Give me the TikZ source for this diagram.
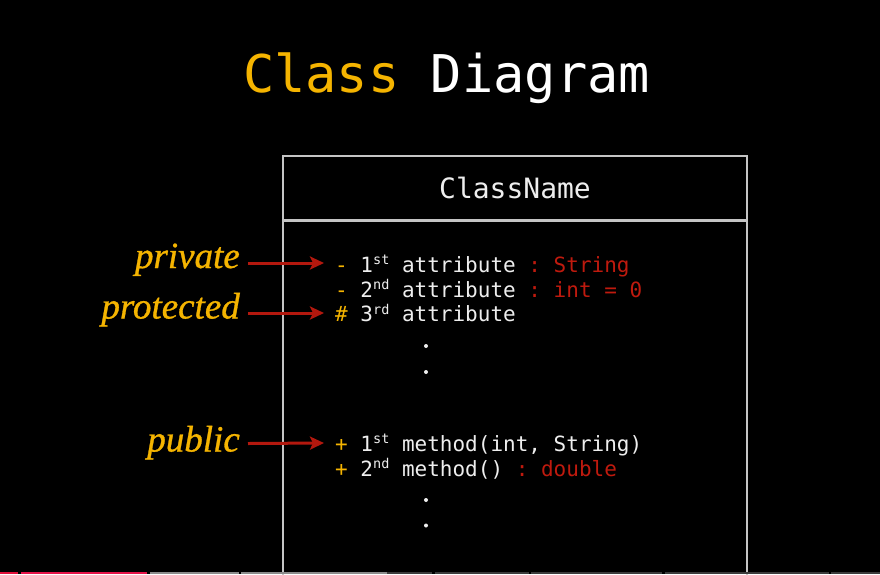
\documentclass[tikz,border=0pt]{standalone}
\usepackage{fontspec}
\setmonofont{DejaVu Sans Mono}
\newfontfamily\labfont[FakeBold=0.8]{Liberation Serif}
\usetikzlibrary{arrows.meta}
\definecolor{umlyellow}{HTML}{F5B400}
\definecolor{umlred}{HTML}{BF1A0E}
\definecolor{arrred}{HTML}{B3180E}
\definecolor{codewhite}{HTML}{EEEEEE}
\definecolor{boxgray}{HTML}{C4C4C4}
\definecolor{barred}{HTML}{E0103A}
\definecolor{barpink}{HTML}{E6144A}
\definecolor{barlight}{HTML}{8C8C8C}
\definecolor{bardark}{HTML}{3C3C3C}
\newcommand\ty[1]{\textcolor{umlyellow}{#1}}
\newcommand\tr[1]{\textcolor{umlred}{#1}}
\newcommand\supx[1]{\raisebox{7.5pt}{\fontsize{13.5}{13.5}\selectfont #1}}
\tikzset{
  code/.style={anchor=base west, inner sep=0pt, text=codewhite, font=\ttfamily\fontsize{21}{21}\selectfont},
  lab/.style={anchor=base east, inner sep=0pt, text=umlyellow, font=\labfont\itshape\fontsize{37}{37}\selectfont},
  arr/.style={draw=arrred, line width=3pt, -{Stealth[length=14pt,width=13pt,inset=3pt]}},
  boxline/.style={draw=boxgray, line width=2.5pt},
  dotx/.style={fill=codewhite, circle, inner sep=0pt, minimum size=4pt},
}
\begin{document}
\begin{tikzpicture}[x=1pt,y=-1pt]
\fill[black] (0,0) rectangle (880,574);
\useasboundingbox (0,0) rectangle (880,574);
% title
\node[anchor=base, inner sep=0pt, font=\ttfamily\fontsize{52}{52}\selectfont] (title) at (446.5,92)
  {\textcolor{umlyellow}{Class} \textcolor{white}{Diagram}};
% class box
\draw[boxline] (283,580) -- (283,156) -- (747,156) -- (747,580);
\draw[boxline] (283,220.5) -- (747,220.5);
\node[anchor=base, inner sep=0pt, text=codewhite, font=\ttfamily\fontsize{28}{28}\selectfont] (cname) at (515,198) {ClassName};
% attributes
\node[code] (a1) at (335,272) {\ty{-} 1\supx{st} attribute \tr{: String}};
\node[code] (a2) at (335,297) {\ty{-} 2\supx{nd} attribute \tr{: int = 0}};
\node[code] (a3) at (335,321.5) {\ty{\#} 3\supx{rd} attribute};
\node[dotx] (d1) at (426,346) {};
\node[dotx] (d2) at (426,372) {};
% methods
\node[code] (m1) at (335,451) {\ty{+} 1\supx{st} method(int, String)};
\node[code] (m2) at (335,476) {\ty{+} 2\supx{nd} method() \tr{: double}};
\node[dotx] (d3) at (426,500) {};
\node[dotx] (d4) at (426,525.5) {};
% labels
\node[lab] (lpriv) at (240,268) {private};
\node[lab] (lprot) at (240,318.5) {protected};
\node[lab] (lpub) at (240,451.5) {public};
\draw[arr] ([shift={(8,-5)}]lpriv.base east) -- ([shift={(-11,-9)}]a1.base west);
\draw[arr] ([shift={(8,-5.5)}]lprot.base east) -- ([shift={(-11,-8.5)}]a3.base west);
\draw[arr] ([shift={(8,-8)}]lpub.base east) -- ([shift={(-11,-8)}]m1.base west);
% progress bar
\fill[barred] (0,572) rectangle (18,574);
\fill[barpink] (21,572) rectangle (147,574);
\fill[barlight] (150,572) rectangle (239,574);
\fill[barlight] (241,572) rectangle (387,574);
\fill[bardark] (387,572) rectangle (432,574);
\fill[bardark] (435,572) rectangle (529,574);
\fill[bardark] (531,572) rectangle (662,574);
\fill[bardark] (665,572) rectangle (829,574);
\fill[bardark] (831,572) rectangle (880,574);
\end{tikzpicture}
\end{document}
